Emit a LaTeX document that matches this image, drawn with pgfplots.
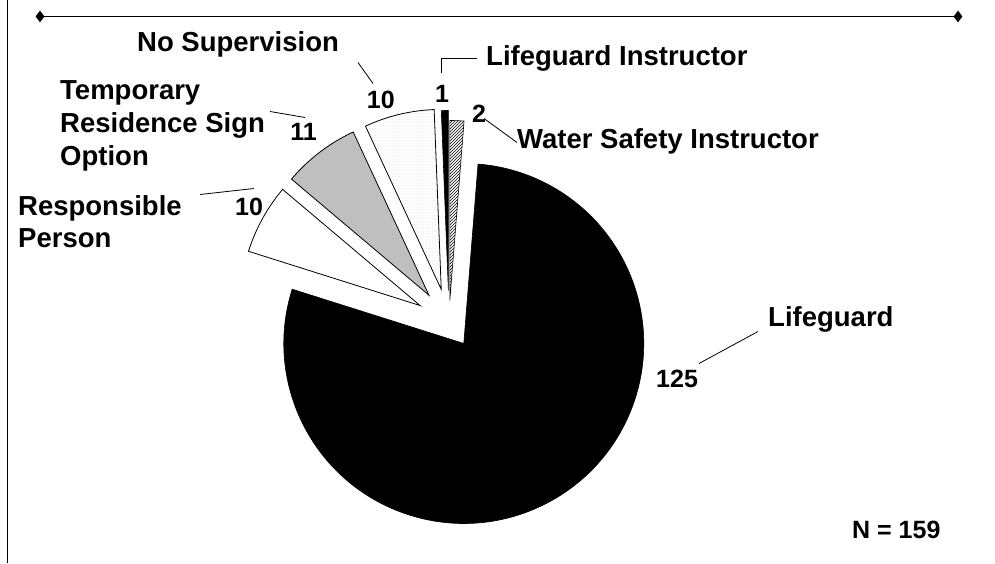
\documentclass[border=0pt]{standalone}
\usepackage{pgfplots}
\pgfplotsset{compat=1.18}
\usepackage{pgfplotstable}
\usepackage{fontspec}
\setmainfont{Liberation Sans}
\usetikzlibrary{patterns}

% slices in counter-clockwise order, starting at 90 degrees
\pgfplotstableread{
name value explode
LI   1    31
NS   10   33
TR   11   33
RP   10   33
LG   125  26.5
WSI  2    21
}\slices

\newcommand\lbl{\fontsize{27.5}{32}\selectfont\bfseries}
\newcommand\num{\fontsize{25}{29}\selectfont\bfseries}

\begin{document}
\begin{tikzpicture}
\begin{axis}[
  x=1pt, y=1pt,
  xmin=0, xmax=995, ymin=0, ymax=563,
  hide axis, clip=false, scale only axis,
]
\path (axis cs:0,0) rectangle (axis cs:995,563);

% frame lines
\addplot[black, line width=1pt, mark=diamond*, mark size=5pt, mark options={fill=black}]
  coordinates {(40,547) (958,547)};
\addplot[black, line width=1pt, no marks] coordinates {(7,0) (7,563)};

% pie slices
\gdef\cum{0}
\foreach \i/\sty in {0/{fill=black,draw=black,line width=0.6pt},
                    1/{pattern=dots,pattern color=gray!45,draw=black,line width=0.8pt},
                    2/{fill=gray!50,draw=black,line width=0.8pt},
                    3/{fill=white,draw=black,line width=0.8pt},
                    4/{fill=black,draw=black,line width=0.6pt},
                    5/{pattern=north east lines,draw=black,line width=0.6pt}} {
  \pgfplotstablegetelem{\i}{value}\of\slices \let\val\pgfplotsretval
  \pgfplotstablegetelem{\i}{explode}\of\slices \let\ex\pgfplotsretval
  \pgfmathsetmacro\sa{90+\cum/159*360}
  \pgfmathsetmacro\ea{90+(\cum+\val)/159*360}
  \pgfmathsetmacro\md{(\sa+\ea)/2}
  \pgfmathsetmacro\ax{449+\ex*cos(\md)}
  \pgfmathsetmacro\ay{242+\ex*sin(\md)}
  \edef\temp{\noexpand\path[\sty] (axis cs:\ax,\ay) -- ++(\sa:180pt)
     arc[start angle=\sa, end angle=\ea, radius=180pt] -- cycle;}
  \temp
  \pgfmathsetmacro\newcum{\cum+\val}
  \global\let\cum\newcum
}

% labels
\node[anchor=base west, inner sep=0, font=\lbl] at (axis cs:137,512) {No Supervision};
\node[anchor=base east, inner sep=0, font=\num] at (axis cs:395,455) {10};
\draw[line width=0.8pt] (axis cs:358,501) -- (axis cs:373,480);

\node[anchor=base, inner sep=0, font=\num] at (axis cs:442,461) {1};
\draw[line width=0.8pt] (axis cs:441,490) -- (axis cs:441,505) -- (axis cs:477,505);
\node[anchor=base west, inner sep=0, font=\lbl] at (axis cs:486,498) {Lifeguard Instructor};

\node[anchor=base west, inner sep=0, font=\num] at (axis cs:472,441) {2};
\draw[line width=0.8pt] (axis cs:484,445) -- (axis cs:517,421);
\node[anchor=base west, inner sep=0, font=\lbl] at (axis cs:517,415) {Water Safety Instructor};

\node[anchor=base west, inner sep=0, font=\lbl] at (axis cs:60,464) {Temporary};
\node[anchor=base west, inner sep=0, font=\lbl] at (axis cs:60,431) {Residence Sign};
\node[anchor=base west, inner sep=0, font=\lbl] at (axis cs:60,398) {Option};
\node[anchor=base east, inner sep=0, font=\num] at (axis cs:317,423) {11};
\draw[line width=0.8pt] (axis cs:270,452) -- (axis cs:305,446);

\node[anchor=base west, inner sep=0, font=\lbl] at (axis cs:18,348) {Responsible};
\node[anchor=base west, inner sep=0, font=\lbl] at (axis cs:18,316) {Person};
\node[anchor=base west, inner sep=0, font=\num] at (axis cs:235,348) {10};
\draw[line width=0.8pt] (axis cs:200,369) -- (axis cs:254,375);

\node[anchor=base west, inner sep=0, font=\lbl] at (axis cs:768,237) {Lifeguard};
\node[anchor=base west, inner sep=0, font=\num] at (axis cs:656,176) {125};
\draw[line width=0.8pt] (axis cs:699,200) -- (axis cs:758,232);

\node[anchor=base west, inner sep=0, font=\num] at (axis cs:852,25) {N = 159};
\end{axis}
\end{tikzpicture}
\end{document}
